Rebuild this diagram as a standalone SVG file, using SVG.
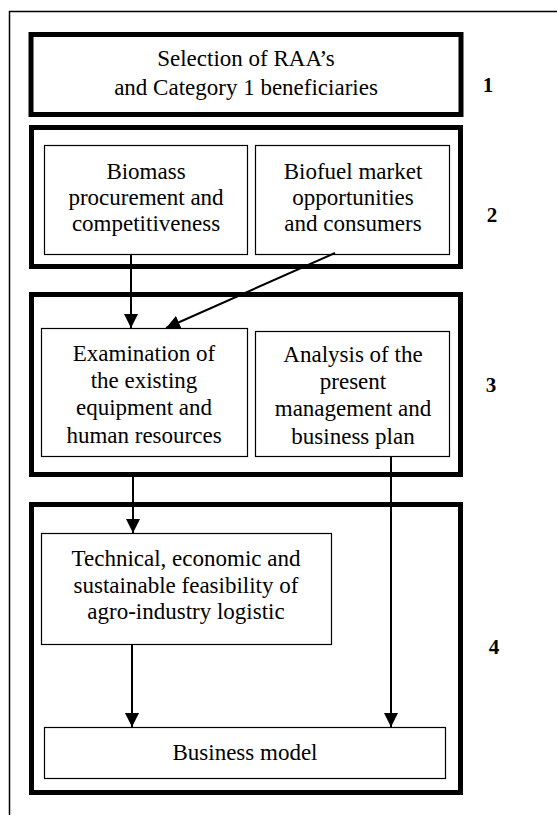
<svg xmlns="http://www.w3.org/2000/svg" width="557" height="817" viewBox="0 0 557 817">
<defs>
<marker id="ah" viewBox="0 0 14 14" refX="14" refY="7" markerWidth="14" markerHeight="14" markerUnits="userSpaceOnUse" orient="auto">
<path d="M0,0 L14,7 L0,14 Z" fill="#000"/>
</marker>
</defs>
<style>
.t{font-family:"Liberation Serif","Times New Roman",serif;font-size:23px;fill:#000;text-anchor:middle}
.n{font-family:"Liberation Serif","Times New Roman",serif;font-size:21px;font-weight:bold;fill:#000;text-anchor:middle}
.stage{fill:none;stroke:#000;stroke-width:5}
.box{fill:#fff;stroke:#000;stroke-width:1.2}
.c{fill:none;stroke:#000;stroke-width:2;marker-end:url(#ah)}
</style>
<rect width="557" height="817" fill="#fff"/>
<g id="frame">
<line x1="9" y1="11.5" x2="557" y2="11.5" stroke="#000" stroke-width="1.5"/>
<line x1="9.5" y1="11" x2="9.5" y2="815" stroke="#000" stroke-width="1.5"/>
</g>
<g id="stage1">
<rect class="stage" x="31" y="34.5" width="430" height="80" stroke-width="4"/>
<text class="t" x="246" y="66">Selection of RAA’s</text>
<text class="t" x="246" y="95">and Category 1 beneficiaries</text>
<text class="n" x="488" y="92">1</text>
</g>
<g id="stage2">
<rect class="stage" x="31.5" y="127.5" width="429" height="139"/>
<text class="n" x="492" y="222">2</text>
</g>
<g id="biomass">
<rect class="box" x="44.5" y="145.5" width="203" height="109"/>
<text class="t" x="146" y="179">Biomass</text>
<text class="t" x="146" y="205">procurement and</text>
<text class="t" x="146" y="231">competitiveness</text>
</g>
<g id="biofuel">
<rect class="box" x="255.5" y="145.5" width="194" height="109"/>
<text class="t" x="353" y="179">Biofuel market</text>
<text class="t" x="353" y="205">opportunities</text>
<text class="t" x="353" y="231">and consumers</text>
</g>
<g id="stage3">
<rect class="stage" x="31.5" y="294.5" width="429" height="180"/>
<text class="n" x="491" y="392">3</text>
</g>
<g id="examination">
<rect class="box" x="41.5" y="328.5" width="206" height="128"/>
<text class="t" x="144" y="361">Examination of</text>
<text class="t" x="144" y="388">the existing</text>
<text class="t" x="144" y="415">equipment and</text>
<text class="t" x="144" y="443">human resources</text>
</g>
<g id="analysis">
<rect class="box" x="255.5" y="331.5" width="194" height="125"/>
<text class="t" x="353" y="362">Analysis of the</text>
<text class="t" x="353" y="389">present</text>
<text class="t" x="353" y="416">management and</text>
<text class="t" x="353" y="444">business plan</text>
</g>
<g id="stage4">
<rect class="stage" x="31.5" y="504.5" width="429" height="288"/>
<text class="n" x="494" y="654">4</text>
</g>
<g id="technical">
<rect class="box" x="41.5" y="533.5" width="290" height="111"/>
<text class="t" x="186" y="566">Technical, economic and</text>
<text class="t" x="186" y="593">sustainable feasibility of</text>
<text class="t" x="186" y="619">agro-industry logistic</text>
</g>
<g id="business">
<rect class="box" x="44.5" y="727.5" width="401" height="51"/>
<text class="t" x="245" y="760">Business model</text>
</g>
<g id="connectors">
<line class="c" x1="131" y1="254" x2="131" y2="328"/>
<line class="c" x1="335" y1="253" x2="166" y2="328"/>
<line class="c" x1="133" y1="477" x2="133" y2="533"/>
<line class="c" x1="391" y1="457" x2="391" y2="727"/>
<line class="c" x1="132" y1="645" x2="132" y2="727"/>
</g>
</svg>
